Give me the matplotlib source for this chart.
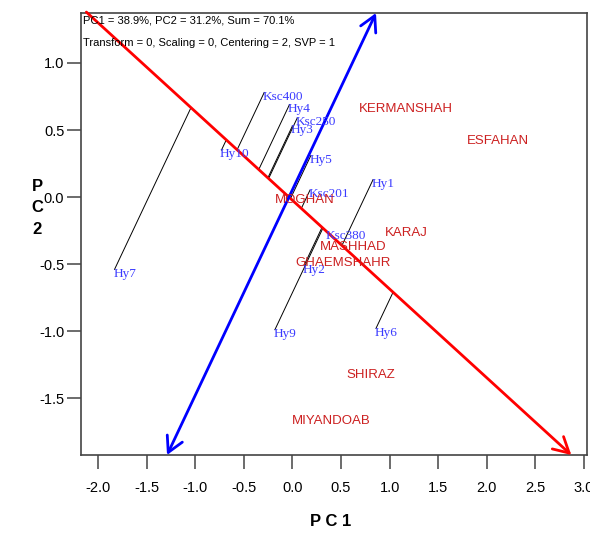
import numpy as np
import matplotlib
matplotlib.use("Agg")
import matplotlib.pyplot as plt

# genotype scores (PC1, PC2)
genotypes = ["Ksc400", "Hy4", "Ksc250", "Hy3", "Hy10", "Hy5", "Ksc201",
             "Hy1", "Ksc380", "Hy2", "Hy7", "Hy9", "Hy6"]
gen_x = [-0.29, -0.03, 0.05, 0.00, -0.73, 0.19, 0.18, 0.83, 0.36, 0.12, -1.83, -0.18, 0.86]
gen_y = [0.78, 0.69, 0.59, 0.53, 0.35, 0.31, 0.05, 0.13, -0.26, -0.51, -0.54, -0.99, -0.98]

# environment scores
environments = ["KERMANSHAH", "ESFAHAN", "MOGHAN", "KARAJ", "MASHHAD",
                "GHAEMSHAHR", "SHIRAZ", "MIYANDOAB"]
env_x = [1.17, 2.11, 0.13, 1.17, 0.63, 0.52, 0.81, 0.40]
env_y = [0.66, 0.42, -0.02, -0.27, -0.37, -0.49, -1.33, -1.67]

# average environment axis (red) and its perpendicular (blue)
aec_x = [-2.12, 2.87]
aec_y = [1.38, -1.925]
ord_x = [-1.29, 0.86]
ord_y = [-1.925, 1.373]

xticks = np.arange(-2.0, 3.01, 0.5)
yticks = np.arange(-1.5, 1.01, 0.5)

fig = plt.figure(figsize=(5.9, 5.33), dpi=100)
ax = fig.add_axes([0.1373, 0.1463, 0.8576, 0.8293])
ax.set_xlim(-2.175, 3.031)
ax.set_ylim(-1.925, 1.373)

# projection of each genotype on the red axis, along the blue direction
r0 = np.array([aec_x[0], aec_y[0]])
dr = np.array([aec_x[1] - aec_x[0], aec_y[1] - aec_y[0]])
db = np.array([ord_x[1] - ord_x[0], ord_y[1] - ord_y[0]])
for gx, gy in zip(gen_x, gen_y):
    p = np.array([gx, gy])
    A = np.column_stack([dr, -db])
    t, s = np.linalg.solve(A, p - r0)
    foot = r0 + t * dr
    ax.plot([gx, foot[0]], [gy, foot[1]], color="black", lw=0.7, zorder=2)

ax.annotate("", xy=(aec_x[1], aec_y[1]), xytext=(aec_x[0], aec_y[0]),
            arrowprops=dict(arrowstyle="->,head_length=0.55,head_width=0.3",
                            color="#ff0000", lw=2, shrinkA=0, shrinkB=0,
                            mutation_scale=20), zorder=3)
ax.annotate("", xy=(ord_x[1], ord_y[1]), xytext=(ord_x[0], ord_y[0]),
            arrowprops=dict(arrowstyle="<->,head_length=0.55,head_width=0.3",
                            color="#0000ff", lw=2, shrinkA=0, shrinkB=0,
                            mutation_scale=20), zorder=3)

for name, gx, gy in zip(genotypes, gen_x, gen_y):
    ax.annotate(name, (gx, gy), xytext=(-1, -3), textcoords="offset points",
                ha="left", va="center", color="#3a3aff", fontsize=9.5,
                family="Liberation Serif", zorder=4)

for name, ex, ey in zip(environments, env_x, env_y):
    ax.text(ex, ey, name, ha="center", va="center", color="#cc2020",
            fontsize=9.5, family="Liberation Sans", zorder=4)

ax.text(0.004, 0.995, "PC1 = 38.9%, PC2 = 31.2%, Sum = 70.1%",
        transform=ax.transAxes, ha="left", va="top", fontsize=8,
        family="Liberation Sans")
ax.text(0.004, 0.943, "Transform = 0, Scaling = 0, Centering = 2, SVP = 1",
        transform=ax.transAxes, ha="left", va="top", fontsize=8,
        family="Liberation Sans")

ax.set_xticks(xticks)
ax.set_xticklabels([f"{v:.1f}" for v in xticks])
ax.set_yticks(yticks)
ax.set_yticklabels([f"{v:.1f}" for v in yticks])
ax.tick_params(direction="out", length=10, width=1.1, color="#444444",
               labelsize=10.5)
ax.tick_params(axis="x", pad=9)
ax.tick_params(axis="y", pad=2)
for lab in ax.get_xticklabels() + ax.get_yticklabels():
    lab.set_family("Liberation Sans")
for sp in ax.spines.values():
    sp.set_color("#444444")
    sp.set_linewidth(1.2)

fig.text(0.561, 0.0225, "P C 1", ha="center", va="center", fontsize=12,
         fontweight="bold", family="Liberation Sans")
fig.text(0.063, 0.61, "P\nC\n2", ha="center", va="center", fontsize=12,
         fontweight="bold", family="Liberation Sans", linespacing=1.55)

fig.savefig("out.png", dpi=100)
